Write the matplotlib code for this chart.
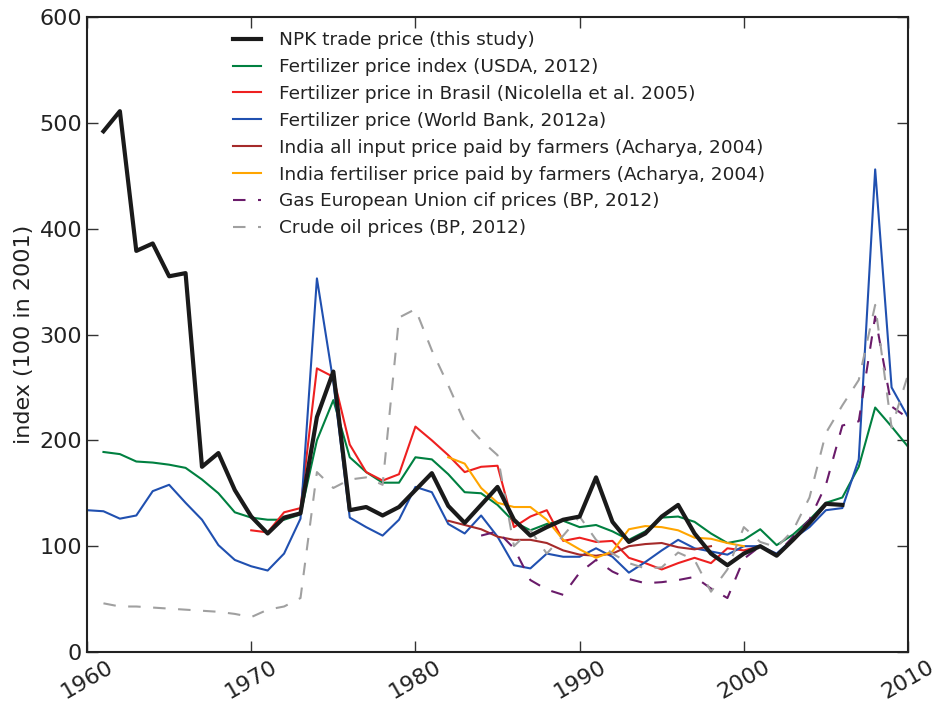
import numpy as np
import matplotlib
matplotlib.use("Agg")
import matplotlib.pyplot as plt

years_npk = list(range(1961, 2007))
npk = [492, 511, 379, 386, 355, 358, 175, 188, 153, 128,
       112, 127, 131, 222, 265, 134, 137, 129, 137, 153,
       169, 138, 122, 139, 156, 125, 110, 118, 125, 128,
       165, 123, 104, 112, 128, 139, 112, 93, 82, 93,
       100, 91, 106, 122, 140, 139]

years_usda = list(range(1961, 2011))
usda = [189, 187, 180, 179, 177, 174, 163, 150, 132, 127,
        125, 125, 130, 200, 238, 184, 170, 160, 160, 184,
        182, 168, 151, 150, 139, 123, 115, 121, 124, 118,
        120, 114, 106, 114, 127, 128, 123, 112, 103, 106,
        116, 101, 111, 125, 141, 146, 175, 231, 213, 194]

years_brasil = list(range(1970, 2002))
brasil = [115, 113, 132, 136, 268, 260, 196, 170, 162, 168,
          213, 200, 186, 170, 175, 176, 118, 128, 134, 105,
          108, 104, 105, 89, 84, 78, 84, 89, 84, 98,
          96, 100]

years_wb = list(range(1960, 2011))
wb = [134, 133, 126, 129, 152, 158, 141, 125, 101, 87,
      81, 77, 93, 126, 353, 255, 127, 118, 110, 125,
      156, 151, 121, 112, 129, 109, 82, 79, 93, 90,
      90, 98, 90, 75, 85, 96, 106, 98, 95, 92,
      100, 100, 93, 107, 118, 134, 136, 182, 456, 250, 222]

years_india_all = list(range(1982, 1999))
india_all = [124, 120, 116, 109, 106, 106, 103, 96, 92, 91,
             93, 100, 102, 103, 99, 97, 100]

years_india_fert = list(range(1982, 2001))
india_fert = [184, 178, 155, 141, 137, 137, 125, 106, 97, 89,
              95, 116, 119, 118, 115, 108, 107, 103, 100]

years_gas = list(range(1984, 2011))
gas = [110, 114, 98, 68, 59, 54, 75, 87, 76, 69,
       65, 66, 68, 71, 60, 51, 88, 100, 92, 109,
       125, 158, 214, 218, 317, 232, 221]

years_oil = list(range(1961, 2011))
oil = [46, 43, 43, 42, 41, 40, 39, 38, 36, 33,
       40, 43, 51, 170, 155, 163, 165, 158, 316, 324,
       285, 252, 217, 200, 186, 100, 115, 93, 110, 128,
       106, 93, 84, 79, 80, 94, 87, 57, 78, 118,
       104, 99, 115, 146, 207, 233, 257, 328, 212, 262]

labels = [
    "NPK trade price (this study)",
    "Fertilizer price index (USDA, 2012)",
    "Fertilizer price in Brasil (Nicolella et al. 2005)",
    "Fertilizer price (World Bank, 2012a)",
    "India all input price paid by farmers (Acharya, 2004)",
    "India fertiliser price paid by farmers (Acharya, 2004)",
    "Gas European Union cif prices (BP, 2012)",
    "Crude oil prices (BP, 2012)",
]

plt.rcParams['font.family'] = ['DejaVu Sans']
fig = plt.figure(figsize=(9.39, 7.02), dpi=100)
ax = fig.add_axes([0.0927, 0.0712, 0.8743, 0.9046])

ax.plot(years_npk, npk, color='#1a1a1a', lw=3, label=labels[0], zorder=5)
ax.plot(years_usda, usda, color='#008040', lw=1.5, label=labels[1])
ax.plot(years_brasil, brasil, color='#ee2020', lw=1.5, label=labels[2])
ax.plot(years_wb, wb, color='#2050b0', lw=1.5, label=labels[3])
ax.plot(years_india_all, india_all, color='#a52a2a', lw=1.5, label=labels[4])
ax.plot(years_india_fert, india_fert, color='#ffa500', lw=1.5, label=labels[5])
ax.plot(years_gas, gas, color='#6a1b6a', lw=1.5, ls=(0, (6, 6)), label=labels[6])
ax.plot(years_oil, oil, color='#a0a0a0', lw=1.5, ls=(0, (6, 6)), label=labels[7])

ax.set_xlim(1960, 2010)
ax.set_ylim(0, 600)
ax.set_xticks(range(1960, 2011, 10))
ax.set_yticks(range(0, 601, 100))
ax.tick_params(direction='in', length=8, width=1, top=True, right=True,
               labelsize=16, colors='#333333', labelcolor='#222222')
for lab in ax.get_xticklabels():
    lab.set_rotation(30)
for s in ax.spines.values():
    s.set_linewidth(1.5)
    s.set_color('#222222')
ax.set_ylabel("index (100 in 2001)", fontsize=16, color='#222222')

leg = ax.legend(loc='upper left', bbox_to_anchor=(0.162, 0.998), frameon=False,
                fontsize=13.3, handlelength=1.5, handletextpad=1.0,
                labelspacing=0.48, borderaxespad=0.3)
for t in leg.get_texts():
    t.set_color('#222222')

fig.savefig("out.png", dpi=100)
